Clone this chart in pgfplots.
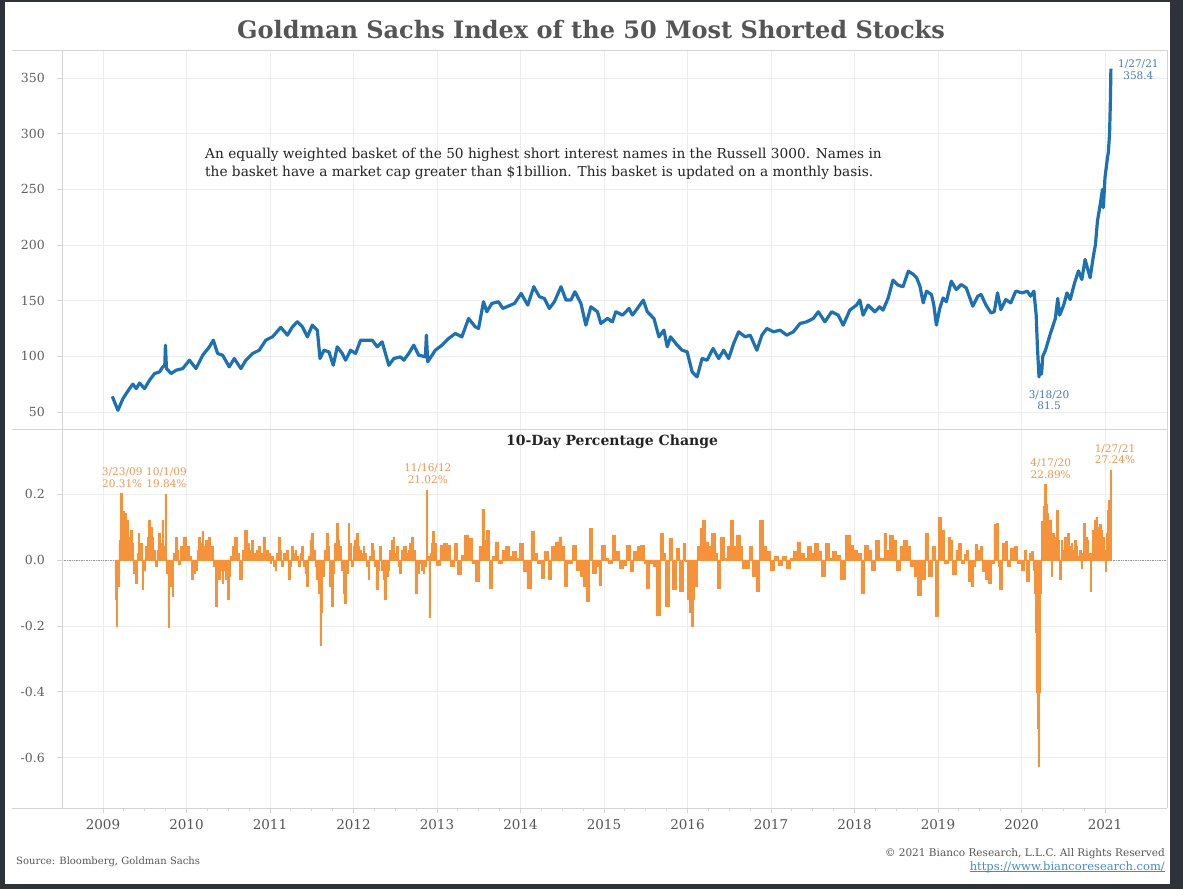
\documentclass[border=0pt]{standalone}
\usepackage{pgfplots}
\pgfplotsset{compat=1.18}
\usepackage{fontspec}
\setmainfont{DejaVu Serif}
\definecolor{framec}{RGB}{45,51,57}
\definecolor{gridc}{RGB}{237,237,237}
\definecolor{borderc}{RGB}{212,212,212}
\definecolor{titlec}{RGB}{85,85,85}
\definecolor{tickc}{RGB}{95,95,95}
\definecolor{blueline}{RGB}{30,113,176}
\definecolor{orangebar}{RGB}{245,146,58}
\definecolor{bluelab}{RGB}{74,122,178}
\definecolor{orangelab}{RGB}{240,150,80}
\definecolor{urlc}{RGB}{70,140,190}
\definecolor{darkc}{RGB}{35,35,35}
\begin{document}
\begin{tikzpicture}[x=1pt,y=1pt]
\fill[framec] (0,0) rectangle (1183,889);
\fill[white] (5,5) rectangle (1170,887);
\node[font=\fontsize{24}{26}\selectfont\bfseries, text=titlec] at (591,859) {Goldman Sachs Index of the 50 Most Shorted Stocks};

% ---------------- top panel ----------------
\begin{axis}[
  at={(62pt,460pt)}, anchor=south west, scale only axis,
  width=1105pt, height=379pt,
  xmin=2008.509, xmax=2021.743, ymin=34.7, ymax=375.2,
  axis line style={draw=none},
  xtick={2009,2010,2011,2012,2013,2014,2015,2016,2017,2018,2019,2020,2021},
  xticklabels={},
  ytick={50,100,150,200,250,300,350},
  yticklabels={50,100,150,200,250,300,350},
  xmajorgrids, ymajorgrids,
  major grid style={gridc, line width=0.8pt},
  tick align=outside, ytick pos=left, xtick pos=bottom,
  xtick style={draw=none},
  ytick style={draw=borderc, line width=0.8pt},
  major tick length=5pt,
  yticklabel style={font=\fontsize{12.5}{12.5}\selectfont, text=tickc, inner sep=0pt, xshift=-12pt},
  clip=false,
]
\addplot[blueline, line width=3.2pt, line join=round, no markers] coordinates {
(2009.111,64) (2009.179,51.5) (2009.239,62) (2009.318,71) (2009.358,75) (2009.398,71) (2009.438,76) (2009.498,71) (2009.557,78.5) (2009.617,84.5) (2009.677,86) (2009.716,90.5) (2009.740,92) (2009.748,110) (2009.760,89) (2009.816,84.5) (2009.876,87.5) (2009.955,89) (2010.035,96.5) (2010.114,89) (2010.194,101) (2010.274,108.5) (2010.321,114.5) (2010.373,102.5) (2010.433,101) (2010.512,90.5) (2010.572,98) (2010.652,89) (2010.711,96.5) (2010.791,102.5) (2010.871,105.5) (2010.950,114.5) (2011.030,117.5) (2011.129,126) (2011.209,119) (2011.269,126.5) (2011.328,131) (2011.388,126.5) (2011.448,117.5) (2011.507,128) (2011.567,123.5) (2011.599,98) (2011.647,105.5) (2011.706,104) (2011.758,92) (2011.806,108.5) (2011.866,102.5) (2011.905,96.5) (2011.965,105.5) (2012.025,102.5) (2012.085,114.5) (2012.164,114.5) (2012.224,114.5) (2012.284,108.5) (2012.343,113) (2012.423,92) (2012.483,98) (2012.562,99.5) (2012.602,96.5) (2012.662,102.5) (2012.721,110) (2012.781,101) (2012.861,99.5) (2012.873,119) (2012.889,95) (2012.980,105.5) (2013.060,110) (2013.139,116) (2013.219,120.5) (2013.298,117.5) (2013.378,134) (2013.458,126.5) (2013.498,125) (2013.557,149) (2013.597,140) (2013.657,147.5) (2013.736,149) (2013.789,143) (2013.928,147.5) (2014.008,156.5) (2014.087,146) (2014.159,162.5) (2014.227,153.5) (2014.286,152) (2014.346,143) (2014.406,149) (2014.485,162.5) (2014.545,150.5) (2014.604,150.5) (2014.652,158) (2014.724,147.5) (2014.783,128) (2014.843,144.5) (2014.922,140) (2014.962,129.5) (2015.042,134) (2015.101,131) (2015.141,140) (2015.221,137) (2015.300,143) (2015.340,137) (2015.400,143) (2015.471,150.5) (2015.519,140) (2015.598,134) (2015.658,117.5) (2015.718,123.5) (2015.757,108.5) (2015.797,117.5) (2015.877,110) (2015.936,105.5) (2015.996,104) (2016.056,86) (2016.115,81.5) (2016.175,98) (2016.235,96.5) (2016.306,107) (2016.374,98) (2016.433,105.5) (2016.493,98) (2016.553,111.5) (2016.612,122) (2016.692,117.5) (2016.751,119) (2016.831,105.5) (2016.891,119) (2016.950,125) (2017.030,122) (2017.109,123.5) (2017.189,119) (2017.268,122) (2017.348,129.5) (2017.427,131) (2017.507,134) (2017.567,140) (2017.646,131) (2017.726,140) (2017.805,137) (2017.865,128) (2017.944,141.5) (2018.024,146) (2018.064,150.5) (2018.103,137) (2018.163,146) (2018.243,140) (2018.302,144.5) (2018.342,141.5) (2018.402,152) (2018.461,168.5) (2018.521,164) (2018.581,162.5) (2018.645,176.5) (2018.704,173.6) (2018.744,170.6) (2018.784,163) (2018.823,148) (2018.863,158.5) (2018.922,155.5) (2018.950,146) (2018.981,128) (2019.021,143) (2019.061,152.4) (2019.100,149) (2019.159,167.5) (2019.219,160) (2019.278,164.5) (2019.338,161.5) (2019.417,145) (2019.476,154) (2019.516,155.5) (2019.575,146) (2019.634,139) (2019.674,140) (2019.713,157) (2019.753,142) (2019.812,151) (2019.872,148) (2019.931,158.5) (2020.010,157) (2020.070,158.5) (2020.109,154) (2020.149,158.5) (2020.176,137) (2020.190,110) (2020.205,88) (2020.210,81.5) (2020.225,92) (2020.240,84) (2020.255,100) (2020.287,105.5) (2020.347,120.6) (2020.406,134) (2020.434,152) (2020.457,137) (2020.505,146) (2020.545,157) (2020.584,151) (2020.636,166) (2020.683,176.7) (2020.723,169) (2020.762,187) (2020.822,170.6) (2020.861,190) (2020.885,200) (2020.910,221.6) (2020.940,235) (2020.970,250) (2020.980,233.5) (2021.000,260.5) (2021.030,278.6) (2021.040,283) (2021.055,300) (2021.065,330) (2021.071,358.4)
};
\node[font=\fontsize{10.5}{11.5}\selectfont, text=bluelab, align=center] at (axis cs:2021.40,357.5) {1/27/21\\358.4};
\node[font=\fontsize{10.5}{11.5}\selectfont, text=bluelab, align=center] at (axis cs:2020.33,60.5) {3/18/20\\81.5};
\end{axis}

% ---------------- bottom panel ----------------
\begin{axis}[
  at={(62pt,81pt)}, anchor=south west, scale only axis,
  width=1105pt, height=378pt,
  xmin=2008.509, xmax=2021.743, ymin=-0.752, ymax=0.394,
  axis line style={draw=none},
  xtick={2009,2010,2011,2012,2013,2014,2015,2016,2017,2018,2019,2020,2021},
  xticklabels={2009,2010,2011,2012,2013,2014,2015,2016,2017,2018,2019,2020,2021},
  minor x tick num=3,
  ytick={-0.6,-0.4,-0.2,0,0.2},
  yticklabels={-0.6,-0.4,-0.2,0.0,0.2},
  xmajorgrids, ymajorgrids,
  major grid style={gridc, line width=0.8pt},
  tick align=outside, ytick pos=left, xtick pos=bottom,
  tick style={draw=borderc, line width=0.8pt},
  major tick length=5pt, minor tick length=3.5pt,
  yticklabel style={font=\fontsize{12.5}{12.5}\selectfont, text=tickc, inner sep=0pt, xshift=-12pt},
  xticklabel style={font=\fontsize{13.5}{13.5}\selectfont, text=titlec, inner sep=0pt, yshift=-6pt},
  clip=false,
]
\draw[gray!80, densely dotted, line width=0.7pt] ({rel axis cs:0,0}|-{axis cs:2015,0}) -- ({rel axis cs:1,0}|-{axis cs:2015,0});
\addplot[const plot mark mid, fill=orangebar, draw=orangebar, line width=0.6pt, line join=miter, no markers] coordinates {
(2009.143,-0.05) (2009.155,-0.12) (2009.167,-0.20) (2009.183,-0.08) (2009.199,0.06) (2009.223,0.203) (2009.235,0.12) (2009.247,0.147) (2009.259,0.10) (2009.271,0.14) (2009.287,0.09) (2009.299,0.12) (2009.318,0.07) (2009.338,0.09) (2009.358,0.05) (2009.378,-0.04) (2009.398,-0.07) (2009.414,0.02) (2009.430,0.08) (2009.446,0.03) (2009.458,0.05) (2009.478,-0.09) (2009.498,-0.03) (2009.517,0.04) (2009.537,0.07) (2009.557,0.12) (2009.577,0.10) (2009.597,0.07) (2009.617,0.03) (2009.637,-0.02) (2009.657,0.03) (2009.677,0.08) (2009.697,0.05) (2009.716,0.12) (2009.732,0.04) (2009.752,0.198) (2009.772,-0.04) (2009.788,-0.205) (2009.804,-0.05) (2009.816,-0.08) (2009.836,-0.11) (2009.856,0.02) (2009.876,0.07) (2009.896,0.03) (2009.915,-0.014) (2009.947,0.04) (2009.975,0.07) (2010.015,0.04) (2010.043,0.01) (2010.075,-0.06) (2010.095,-0.04) (2010.115,-0.03) (2010.134,0.03) (2010.154,0.07) (2010.174,0.05) (2010.194,0.086) (2010.214,0.04) (2010.234,0.06) (2010.254,0.03) (2010.274,0.07) (2010.294,0.04) (2010.313,0.04) (2010.333,-0.02) (2010.353,-0.14) (2010.373,-0.05) (2010.393,-0.06) (2010.413,-0.03) (2010.433,-0.07) (2010.453,-0.03) (2010.473,-0.06) (2010.504,-0.12) (2010.520,-0.05) (2010.540,0.01) (2010.564,0.04) (2010.592,0.07) (2010.620,0.02) (2010.652,-0.06) (2010.680,0.03) (2010.711,0.09) (2010.739,0.05) (2010.763,0.03) (2010.791,0.06) (2010.819,0.02) (2010.843,0.03) (2010.871,0.04) (2010.898,0.02) (2010.930,0.07) (2010.958,0.03) (2010.990,0.02) (2011.010,-0.01) (2011.030,0.01) (2011.050,-0.02) (2011.070,-0.03) (2011.090,0.02) (2011.109,0.07) (2011.129,0.03) (2011.149,-0.02) (2011.181,0.02) (2011.209,0.03) (2011.229,-0.06) (2011.249,-0.02) (2011.269,0.04) (2011.289,0.02) (2011.309,0.03) (2011.328,0.01) (2011.348,-0.02) (2011.368,0.02) (2011.388,0.04) (2011.408,-0.02) (2011.428,-0.04) (2011.448,-0.08) (2011.468,0.01) (2011.488,0.06) (2011.507,0.08) (2011.527,0.03) (2011.547,-0.02) (2011.567,-0.06) (2011.587,-0.10) (2011.607,-0.26) (2011.623,-0.16) (2011.639,-0.05) (2011.659,0.03) (2011.686,0.08) (2011.706,0.04) (2011.726,-0.08) (2011.746,-0.14) (2011.766,-0.04) (2011.786,0.05) (2011.806,0.11) (2011.826,0.06) (2011.845,0.04) (2011.865,-0.03) (2011.885,-0.10) (2011.905,-0.13) (2011.925,-0.04) (2011.945,0.11) (2011.965,0.05) (2011.985,-0.02) (2012.005,0.04) (2012.025,0.06) (2012.045,0.08) (2012.065,0.04) (2012.085,0.03) (2012.104,0.02) (2012.124,0.04) (2012.144,0.02) (2012.164,-0.02) (2012.184,-0.06) (2012.204,0.01) (2012.224,0.05) (2012.244,0.03) (2012.264,-0.02) (2012.284,-0.09) (2012.304,-0.03) (2012.323,0.04) (2012.343,-0.03) (2012.363,-0.06) (2012.383,-0.12) (2012.403,-0.05) (2012.423,-0.03) (2012.443,0.03) (2012.463,0.06) (2012.483,0.07) (2012.502,0.02) (2012.522,0.04) (2012.542,-0.02) (2012.562,-0.04) (2012.582,0.03) (2012.602,0.04) (2012.622,0.04) (2012.642,0.02) (2012.662,0.03) (2012.682,0.05) (2012.701,0.07) (2012.721,0.03) (2012.749,-0.10) (2012.773,-0.04) (2012.801,-0.01) (2012.821,-0.03) (2012.841,-0.04) (2012.861,-0.02) (2012.881,0.210) (2012.896,0.01) (2012.912,-0.175) (2012.928,0.02) (2012.940,0.05) (2012.955,0.086)
(2012.970,0.05) (2013.013,-0.015) (2013.055,0.045) (2013.098,0.05) (2013.140,0.045) (2013.183,-0.02) (2013.226,0.05) (2013.268,-0.045) (2013.311,0.015) (2013.353,0.076) (2013.396,0.066) (2013.438,-0.01) (2013.481,-0.066) (2013.523,0.04) (2013.553,0.154) (2013.579,0.06) (2013.609,0.09) (2013.651,-0.086) (2013.672,0.01) (2013.715,0.055) (2013.757,-0.01) (2013.800,0.03) (2013.843,0.04) (2013.885,0.01) (2013.928,0.025) (2013.970,0.005) (2014.013,0.05) (2014.055,-0.035) (2014.098,-0.086) (2014.149,0.086) (2014.183,0.02) (2014.226,-0.01) (2014.268,-0.056) (2014.311,0.025) (2014.353,-0.06) (2014.396,0.04) (2014.438,0.055) (2014.481,0.07) (2014.502,0.04) (2014.545,-0.08) (2014.587,-0.01) (2014.651,0.045) (2014.694,-0.03) (2014.736,-0.05) (2014.779,-0.08) (2014.800,-0.126) (2014.843,0.096) (2014.885,-0.04) (2014.928,-0.02) (2014.949,-0.076) (2014.991,0.045) (2015.034,0.005) (2015.077,-0.01) (2015.119,0.076) (2015.162,0.025) (2015.204,-0.025) (2015.247,-0.015) (2015.289,0.045) (2015.332,-0.035) (2015.374,0.025) (2015.417,0.04) (2015.460,0.045) (2015.502,-0.01) (2015.523,-0.086) (2015.566,-0.01) (2015.609,-0.02) (2015.651,-0.167) (2015.694,0.08) (2015.723,0.02) (2015.757,-0.14) (2015.800,0.066) (2015.843,-0.09) (2015.885,0.035) (2015.928,-0.096) (2015.962,0.05) (2015.991,-0.005) (2016.013,-0.12) (2016.034,-0.16) (2016.055,-0.20) (2016.077,-0.12) (2016.098,-0.08) (2016.140,0.04) (2016.162,0.096) (2016.191,0.12) (2016.226,0.055) (2016.268,0.04) (2016.311,0.08) (2016.345,0.02) (2016.374,-0.086) (2016.417,0.07) (2016.460,0.005) (2016.502,0.04) (2016.532,0.12) (2016.566,0.04) (2016.609,0.076) (2016.651,0.04) (2016.672,-0.025) (2016.715,-0.025) (2016.757,0.04) (2016.800,-0.05) (2016.843,-0.096) (2016.885,0.12) (2016.928,0.04) (2016.970,0.025) (2017.013,-0.03) (2017.055,0.01) (2017.119,-0.015) (2017.162,0.01) (2017.204,-0.025) (2017.247,0.005) (2017.289,0.025) (2017.332,0.055) (2017.374,0.02) (2017.417,0.005) (2017.460,0.04) (2017.502,0.02) (2017.545,0.05) (2017.587,0.025) (2017.630,-0.05) (2017.672,0.05) (2017.715,0.005) (2017.757,0.025) (2017.800,0.015) (2017.864,-0.06) (2017.919,0.076) (2017.970,0.045) (2018.013,0.03) (2018.055,0.02) (2018.098,-0.10) (2018.140,0.045) (2018.183,0.03) (2018.226,-0.03) (2018.268,0.06) (2018.332,0.005) (2018.374,0.08) (2018.396,0.03) (2018.438,0.076) (2018.481,0.06) (2018.523,-0.03) (2018.566,0.04) (2018.609,0.06) (2018.651,0.04) (2018.694,-0.02) (2018.736,-0.05) (2018.779,-0.106) (2018.821,-0.06) (2018.864,0.08) (2018.906,-0.05) (2018.949,0.04) (2018.983,-0.17) (2019.026,0.13) (2019.055,0.09) (2019.098,-0.01) (2019.140,0.07)
(2019.155,0.06) (2019.194,-0.044) (2019.234,0.03) (2019.262,0.05) (2019.294,-0.01) (2019.333,0.016) (2019.353,0.03) (2019.381,-0.065) (2019.405,-0.08) (2019.433,-0.02) (2019.452,0.046) (2019.492,0.03) (2019.512,0.04) (2019.552,-0.035) (2019.591,-0.06) (2019.619,-0.07) (2019.651,-0.01) (2019.690,0.107) (2019.710,0.112) (2019.730,-0.02) (2019.750,-0.09) (2019.790,0.05) (2019.817,0.057) (2019.849,-0.02) (2019.889,0.036) (2019.929,0.04) (2019.968,-0.01) (2020.016,-0.03) (2020.048,0.03) (2020.079,-0.065) (2020.107,0.02) (2020.127,0.026) (2020.147,-0.03) (2020.159,-0.10) (2020.171,-0.22) (2020.187,-0.40) (2020.198,-0.51) (2020.210,-0.625) (2020.222,-0.40) (2020.234,-0.10) (2020.246,0.117) (2020.266,0.163) (2020.290,0.229) (2020.303,0.17) (2020.313,0.14) (2020.325,0.10) (2020.345,0.12) (2020.365,-0.05) (2020.385,0.08) (2020.405,0.07) (2020.433,0.15) (2020.452,0.06) (2020.464,-0.06) (2020.484,0.06) (2020.504,0.03) (2020.524,0.07) (2020.544,0.05) (2020.563,0.08) (2020.583,0.04) (2020.603,0.05) (2020.623,0.03) (2020.643,0.06) (2020.663,0.04) (2020.683,0.01) (2020.702,0.03) (2020.722,-0.024) (2020.738,0.02) (2020.754,0.11) (2020.774,0.07) (2020.794,0.06) (2020.813,0.02) (2020.829,-0.095) (2020.845,0.02) (2020.861,0.09) (2020.881,0.12) (2020.901,0.13) (2020.921,0.10) (2020.940,0.107) (2020.960,0.09) (2020.980,0.07) (2021.000,0.03) (2021.008,-0.034) (2021.020,0.08) (2021.032,0.15) (2021.044,0.18) (2021.056,0.17) (2021.071,0.272)
} \closedcycle;
\node[font=\fontsize{10.5}{11.5}\selectfont, text=orangelab, align=center] at (axis cs:2009.23,0.250) {3/23/09\\20.31\%};
\node[font=\fontsize{10.5}{11.5}\selectfont, text=orangelab, align=center] at (axis cs:2009.76,0.250) {10/1/09\\19.84\%};
\node[font=\fontsize{10.5}{11.5}\selectfont, text=orangelab, align=center] at (axis cs:2012.89,0.261) {11/16/12\\21.02\%};
\node[font=\fontsize{10.5}{11.5}\selectfont, text=orangelab, align=center] at (axis cs:2020.35,0.277) {4/17/20\\22.89\%};
\node[font=\fontsize{10.5}{11.5}\selectfont, text=orangelab, align=center] at (axis cs:2021.12,0.320) {1/27/21\\27.24\%};
\end{axis}

% panel borders
\draw[borderc, line width=0.8pt] (12,839) -- (1167,839);
\draw[borderc, line width=0.8pt] (12,459.5) -- (1167,459.5);
\draw[borderc, line width=0.8pt] (12,81) -- (1167,81);
\draw[borderc, line width=0.8pt] (62,81) -- (62,839);
\draw[borderc, line width=0.8pt] (1167,81) -- (1167,839);

\node[font=\fontsize{14}{16}\selectfont\bfseries, text=darkc] at (612,447) {10-Day Percentage Change};
\node[font=\fontsize{13.7}{15}\selectfont, text=darkc, anchor=base west, inner sep=0pt] at (205,730) {An equally weighted basket of the 50 highest short interest names in the Russell 3000. Names in};
\node[font=\fontsize{13.7}{15}\selectfont, text=darkc, anchor=base west, inner sep=0pt] at (205,712) {the basket have a market cap greater than \$1billion. This basket is updated on a monthly basis.};

\node[font=\fontsize{10}{12}\selectfont, text=titlec, anchor=base west, inner sep=0pt] at (16,25) {Source: Bloomberg, Goldman Sachs};
\node[font=\fontsize{10.5}{12}\selectfont, text=titlec, anchor=base east, inner sep=0pt] at (1165,33) {© 2021 Bianco Research, L.L.C. All Rights Reserved};
\node[font=\fontsize{11.5}{12}\selectfont, text=urlc, anchor=base east, inner sep=0pt] (url) at (1165,19) {https://www.biancoresearch.com/};
\draw[urlc, line width=0.5pt] ([yshift=-1.5pt]url.base west) -- ([yshift=-1.5pt]url.base east);
\end{tikzpicture}
\end{document}
